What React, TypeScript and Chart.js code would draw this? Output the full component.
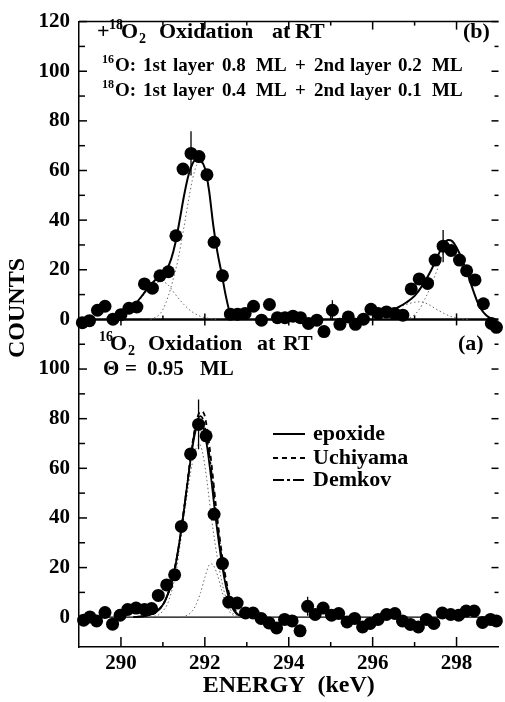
import React, { useEffect, useRef } from 'react';
import { Chart, registerables } from 'chart.js';

Chart.register(...registerables);

const SERIF = '"Liberation Serif", "Times New Roman", serif';

// ---------- Panel (b): +18O2 oxidation at RT (upper panel) ----------
const energyB = [289.08, 289.25, 289.44, 289.62, 289.81, 290.0, 290.19, 290.38, 290.56, 290.75, 290.93, 291.13, 291.31, 291.48, 291.67, 291.86, 292.05, 292.22, 292.42, 292.61, 292.78, 292.96, 293.16, 293.35, 293.54, 293.73, 293.91, 294.1, 294.28, 294.47, 294.67, 294.84, 295.04, 295.22, 295.42, 295.59, 295.78, 295.96, 296.13, 296.33, 296.52, 296.72, 296.92, 297.11, 297.31, 297.49, 297.68, 297.87, 298.07, 298.24, 298.44, 298.64, 298.83, 298.95];
const countsB = [-1.3, -0.5, 3.7, 5.3, 0.1, 1.9, 4.5, 5.0, 14.3, 12.6, 17.6, 19.2, 33.7, 60.6, 66.9, 65.6, 58.3, 31.1, 17.6, 2.1, 2.1, 2.4, 5.3, -0.3, 6.0, 0.7, 0.7, 1.3, 0.7, -1.6, -0.3, -4.9, 3.7, -2.0, 1.0, -2.0, 0.1, 4.1, 2.4, 3.0, 2.4, 1.7, 12.3, 16.3, 14.5, 23.9, 29.5, 27.8, 23.9, 19.6, 15.9, 6.3, -1.6, -3.2];
const errBEnergy = [291.67, 295.04, 297.68];
const errBLow = [58.0, -0.3, 23.0];
const errBHigh = [75.8, 7.7, 36.0];

// total fit, 16O peak
const fitB1Energy = [290.2, 290.35, 290.5, 290.65, 290.8, 290.95, 291.1, 291.2, 291.3, 291.4, 291.5, 291.6, 291.7, 291.8, 291.9, 292.0, 292.1, 292.2, 292.3, 292.4, 292.5, 292.6, 292.7, 292.8];
const fitB1Counts = [3.7, 6.3, 9.5, 12.8, 15.6, 18, 20.5, 24.5, 31, 40, 49.5, 57.5, 62.5, 64.6, 64, 61, 52, 38, 27, 18.5, 9.5, 2.5, 0.4, 0];
// total fit, 18O peak
const fitB2Energy = [296.45, 296.6, 296.8, 297.0, 297.2, 297.4, 297.55, 297.7, 297.8, 297.9, 298.0, 298.1, 298.2, 298.3, 298.4, 298.5, 298.6, 298.7, 298.8, 298.9];
const fitB2Counts = [3.5, 4.8, 6.8, 9.5, 14, 20, 25.5, 30.5, 32, 31.5, 29, 25.5, 21, 16.5, 11.5, 7, 3.8, 1.8, 0.6, 0];
// components (dotted)
const compB1MainEnergy = [290.7, 290.9, 291.0, 291.13, 291.25, 291.36, 291.5, 291.6, 291.7, 291.8, 291.9, 292.0, 292.1, 292.2, 292.3, 292.4, 292.5, 292.6, 292.7, 292.8];
const compB1MainCounts = [0, 1.7, 4, 9.5, 16.5, 24, 37, 47, 56, 62, 63.5, 60.5, 51.5, 38, 27, 18.3, 9.4, 2.5, 0.4, 0];
const compB1SideEnergy = [290.2, 290.4, 290.6, 290.8, 290.95, 291.1, 291.3, 291.5, 291.7, 291.9, 292.1, 292.3];
const compB1SideCounts = [3.5, 7, 11, 14.2, 15.3, 14.3, 10, 6, 3, 1.2, 0.4, 0];
const compB2MainEnergy = [296.8, 296.95, 297.1, 297.25, 297.4, 297.55, 297.7, 297.8, 297.9, 298.0, 298.1, 298.2, 298.3, 298.4, 298.5, 298.6, 298.7, 298.8, 298.9];
const compB2MainCounts = [0, 1.3, 3.8, 8.3, 14, 20.5, 27.5, 30.5, 30.8, 28.7, 25.3, 21, 16.5, 11.5, 7, 3.8, 1.8, 0.6, 0];
const compB2SideEnergy = [296.45, 296.6, 296.8, 297.0, 297.15, 297.3, 297.5, 297.7, 297.9, 298.1, 298.3];
const compB2SideCounts = [3.5, 4.6, 6, 6.9, 7.1, 6.3, 4.3, 2.4, 1, 0.3, 0];

// ---------- Panel (a): 16O2 oxidation at RT (lower panel) ----------
const energyA = [289.11, 289.26, 289.42, 289.62, 289.8, 289.98, 290.16, 290.36, 290.56, 290.73, 290.89, 291.09, 291.28, 291.44, 291.66, 291.85, 292.03, 292.22, 292.42, 292.57, 292.77, 292.97, 293.15, 293.34, 293.53, 293.71, 293.9, 294.08, 294.27, 294.45, 294.63, 294.82, 295.02, 295.19, 295.39, 295.57, 295.76, 295.94, 296.13, 296.33, 296.53, 296.71, 296.9, 297.09, 297.28, 297.46, 297.66, 297.86, 298.05, 298.23, 298.42, 298.62, 298.81, 298.95];
const countsA = [-1.2, 0.1, -1.5, 1.9, -2.8, 0.8, 3.1, 3.7, 3.1, 3.5, 8.8, 13.0, 17.1, 36.6, 65.8, 77.7, 73.1, 41.5, 21.6, 6.1, 5.7, 1.7, 1.7, -0.5, -2.3, -4.3, -0.9, -1.5, -5.5, 4.4, 1.1, 3.7, 0.8, 1.5, -1.9, -0.5, -3.9, -2.5, -0.9, 1.1, 1.5, -1.5, -2.9, -3.9, -0.9, -2.5, 1.7, 1.1, 0.8, 2.5, 2.5, -2.1, -0.9, -1.5];
const errAEnergy = [291.85, 294.45];
const errALow = [67.7, 0.6];
const errAHigh = [87.7, 8.2];

const epoxideEnergy = [290.3, 290.5, 290.7, 290.85, 291.0, 291.1, 291.2, 291.3, 291.4, 291.5, 291.6, 291.7, 291.8, 291.88, 291.96, 292.05, 292.15, 292.25, 292.35, 292.45, 292.55, 292.65, 292.75, 292.9, 293.1];
const epoxideCounts = [0, 0.3, 1, 2.3, 5, 8.5, 13.5, 21, 31, 43, 56, 68, 76.5, 79, 77, 69, 56, 41, 28, 17, 9, 4, 1.5, 0.3, 0];
const uchiyamaEnergy = [290.3, 290.5, 290.7, 290.85, 291.0, 291.1, 291.2, 291.3, 291.4, 291.5, 291.6, 291.7, 291.8, 291.9, 291.98, 292.07, 292.17, 292.27, 292.37, 292.47, 292.57, 292.67, 292.77, 292.92, 293.1];
const uchiyamaCounts = [0, 0.3, 1, 2.3, 5, 8.5, 13.5, 21, 31, 43, 56.5, 69.5, 79, 83, 82, 74, 60, 44, 30, 18.5, 10, 4.5, 1.8, 0.4, 0];
const demkovEnergy = [290.3, 290.5, 290.7, 290.85, 291.0, 291.1, 291.2, 291.3, 291.4, 291.5, 291.6, 291.7, 291.8, 291.89, 291.97, 292.06, 292.16, 292.26, 292.36, 292.46, 292.56, 292.66, 292.76, 292.91, 293.1];
const demkovCounts = [0, 0.3, 1, 2.3, 5, 8.5, 13.5, 21, 31, 43, 56, 69, 78, 81, 79, 71, 58, 42.5, 29, 17.5, 9.5, 4.2, 1.6, 0.3, 0];
const compAMainEnergy = [290.7, 290.9, 291.0, 291.1, 291.2, 291.3, 291.4, 291.5, 291.6, 291.7, 291.8, 291.87, 291.95, 292.05, 292.15, 292.25, 292.35, 292.45, 292.55, 292.65, 292.75, 292.85];
const compAMainCounts = [0, 1, 2.5, 5, 10, 17, 28, 40, 52, 62, 68.5, 69.8, 66, 55, 41, 29, 19, 11, 5.5, 2, 0.6, 0];
const compASideEnergy = [291.45, 291.6, 291.7, 291.8, 291.9, 292.0, 292.1, 292.15, 292.2, 292.3, 292.4, 292.5, 292.6, 292.7, 292.8];
const compASideCounts = [0, 1, 2.5, 5.5, 10, 16, 21, 21.5, 21, 17, 11, 5.5, 2, 0.6, 0];

const xTicksEven = (v: number) => (v % 2 === 0 ? String(v) : '');

const pts = (xs: number[], ys: number[]) => xs.map((x, i) => ({ x, y: ys[i] }));
const errPts = (xs: number[], lo: number[], hi: number[]) => {
  const out: any[] = [];
  xs.forEach((x, i) => {
    out.push({ x, y: lo[i] }, { x, y: hi[i] }, { x, y: null });
  });
  return out;
};

const lineDs = (label: string, data: any[], axis: string, extra: any = {}) => ({
  label,
  data,
  yAxisID: axis,
  showLine: true,
  pointRadius: 0,
  borderColor: '#000',
  borderWidth: 2,
  cubicInterpolationMode: 'monotone',
  fill: false,
  clip: false,
  spanGaps: false,
  ...extra,
});

const dotted = { borderColor: '#666', borderWidth: 1, borderDash: [1.5, 2.5] };

function drawParts(ctx: CanvasRenderingContext2D, parts: [string, number, number, number][]) {
  // [text, x, baseline, fontSize]
  for (const [t, x, y, s] of parts) {
    ctx.font = `bold ${s}px ${SERIF}`;
    ctx.fillText(t, x, y);
  }
}

const decorPlugin = {
  id: 'decor',
  beforeDatasetsDraw(chart: any) {
    const { ctx, chartArea: ca, scales } = chart;
    ctx.save();
    ctx.strokeStyle = '#000';
    const z0 = scales.yB.getPixelForValue(0);
    ctx.lineWidth = 2.5;
    ctx.beginPath();
    ctx.moveTo(ca.left, z0);
    ctx.lineTo(ca.right, z0);
    ctx.stroke();
    const z1 = scales.yA.getPixelForValue(0);
    ctx.lineWidth = 1.3;
    ctx.beginPath();
    ctx.moveTo(ca.left, z1);
    ctx.lineTo(ca.right, z1);
    ctx.stroke();
    ctx.restore();
  },
  afterDraw(chart: any) {
    const { ctx, chartArea: ca, scales } = chart;
    const seg = (x1: number, y1: number, x2: number, y2: number) => {
      ctx.beginPath();
      ctx.moveTo(x1, y1);
      ctx.lineTo(x2, y2);
      ctx.stroke();
    };
    ctx.save();
    ctx.strokeStyle = '#000';
    ctx.lineWidth = 1.5;
    // top frame
    seg(ca.left, ca.top, ca.right, ca.top);
    // x ticks (inward)
    const z0 = scales.yB.getPixelForValue(0);
    scales.x.ticks.forEach((t: any) => {
      const v = t.value;
      if (v <= scales.x.min || v >= scales.x.max) return;
      const px = scales.x.getPixelForValue(v);
      const major = v % 2 === 0;
      seg(px, ca.top, px, ca.top + (major ? 8 : 4));
      if (major) seg(px, z0 - 6, px, z0 + 6);
      else seg(px, z0 - 4, px, z0);
      seg(px, ca.bottom, px, ca.bottom - (major ? 10 : 5));
    });
    // y ticks (inward), both sides
    const yTicks = (sc: any, skipTop: boolean) => {
      sc.ticks.forEach((t: any) => {
        const v = t.value;
        if (v % 10 !== 0 || v === 0) return;
        if (skipTop && v >= sc.max) return;
        const py = sc.getPixelForValue(v);
        const major = v % 20 === 0;
        seg(ca.left, py, ca.left + (major ? 8 : 6), py);
        seg(ca.right, py, ca.right - (major ? 7 : 4), py);
      });
    };
    yTicks(scales.yB, false);
    yTicks(scales.yA, true);

    // annotations
    ctx.fillStyle = '#000';
    ctx.textAlign = 'left';
    ctx.textBaseline = 'alphabetic';
    drawParts(ctx, [
      ['+', 97, 38, 22], ['18', 109, 29, 14], ['O', 121, 38, 22], ['2', 139, 43, 14],
      ['Oxidation', 159, 38, 22], ['at', 272, 38, 22], ['RT', 295, 38, 22], ['(b)', 463, 38, 22],
    ]);
    const line2 = (iso: string, a: string, b: string, y: number) =>
      drawParts(ctx, [
        [iso, 102, y - 8, 12], ['O:', 115, y, 19], ['1st', 143, y, 19], ['layer', 173, y, 19],
        [a, 222, y, 19], ['ML', 256, y, 19], ['+', 295, y, 19], ['2nd', 314, y, 19],
        ['layer', 350, y, 19], [b, 398, y, 19], ['ML', 432, y, 19],
      ]);
    line2('16', '0.8', '0.2', 71);
    line2('18', '0.4', '0.1', 96);
    drawParts(ctx, [
      ['16', 99, 341, 14], ['O', 110, 350, 22], ['2', 128, 355, 14],
      ['Oxidation', 148, 350, 22], ['at', 257, 350, 22], ['RT', 283, 350, 22], ['(a)', 458, 350, 22],
      ['\u0398', 103, 375, 21], ['=', 125, 375, 21], ['0.95', 147, 375, 21], ['ML', 200, 375, 21],
    ]);

    // legend (fits in panel a)
    const legendIdx = [10, 11, 12];
    const rows = [434, 458, 480];
    legendIdx.forEach((di, i) => {
      const ds = chart.data.datasets[di];
      ctx.save();
      ctx.lineWidth = 2;
      ctx.setLineDash(ds.borderDash || []);
      seg(273, rows[i], 305, rows[i]);
      ctx.restore();
      ctx.font = `bold 22px ${SERIF}`;
      ctx.textBaseline = 'middle';
      ctx.fillText(ds.label, 313, rows[i]);
    });

    // y axis title
    ctx.save();
    ctx.translate(18, 308);
    ctx.rotate(-Math.PI / 2);
    ctx.font = `bold 24px ${SERIF}`;
    ctx.textAlign = 'center';
    ctx.textBaseline = 'middle';
    ctx.fillText('COUNTS', 0, 0);
    ctx.restore();
    ctx.restore();
  },
};

export default function App() {
  const ref = useRef<HTMLCanvasElement>(null);
  useEffect(() => {
    if (!ref.current) return;
    const tickFont = { family: SERIF, size: 21, weight: 'bold' as const };
    const pointStyle = {
      showLine: false,
      pointRadius: 6.5,
      pointHoverRadius: 6.5,
      pointBackgroundColor: '#000',
      pointBorderWidth: 0,
      clip: false,
    };
    const chart = new Chart(ref.current, {
      type: 'scatter',
      data: {
        datasets: [
          { label: 'data (b)', data: pts(energyB, countsB), yAxisID: 'yB', ...pointStyle },
          { label: 'data (a)', data: pts(energyA, countsA), yAxisID: 'yA', ...pointStyle },
          lineDs('error (b)', errPts(errBEnergy, errBLow, errBHigh), 'yB', { borderWidth: 1.3, cubicInterpolationMode: 'default', tension: 0 }),
          lineDs('error (a)', errPts(errAEnergy, errALow, errAHigh), 'yA', { borderWidth: 1.3, cubicInterpolationMode: 'default', tension: 0 }),
          lineDs('fit 16O (b)', pts(fitB1Energy, fitB1Counts), 'yB'),
          lineDs('fit 18O (b)', pts(fitB2Energy, fitB2Counts), 'yB'),
          lineDs('1st layer 16O', pts(compB1MainEnergy, compB1MainCounts), 'yB', dotted),
          lineDs('2nd layer 16O', pts(compB1SideEnergy, compB1SideCounts), 'yB', dotted),
          lineDs('1st layer 18O', pts(compB2MainEnergy, compB2MainCounts), 'yB', dotted),
          lineDs('2nd layer 18O', pts(compB2SideEnergy, compB2SideCounts), 'yB', dotted),
          lineDs('epoxide', pts(epoxideEnergy, epoxideCounts), 'yA', { borderWidth: 1.8 }),
          lineDs('Uchiyama', pts(uchiyamaEnergy, uchiyamaCounts), 'yA', { borderWidth: 1.8, borderDash: [5, 4] }),
          lineDs('Demkov', pts(demkovEnergy, demkovCounts), 'yA', { borderWidth: 1.8, borderDash: [11, 3, 3, 3] }),
          lineDs('1st layer', pts(compAMainEnergy, compAMainCounts), 'yA', dotted),
          lineDs('2nd layer', pts(compASideEnergy, compASideCounts), 'yA', dotted),
        ],
      },
      options: {
        responsive: false,
        animation: false,
        events: [],
        layout: { padding: { top: 14, right: 0, bottom: 0, left: 0 } },
        plugins: { legend: { display: false }, tooltip: { enabled: false }, title: { display: false } },
        scales: {
          x: {
            type: 'linear',
            position: 'bottom',
            min: 289,
            max: 299,
            ticks: { stepSize: 1, autoSkip: false, maxRotation: 0, callback: (v: any) => xTicksEven(Number(v)), font: tickFont, color: '#000', padding: 4 },
            grid: { display: false, drawTicks: false },
            border: { display: true, color: '#000', width: 1.5 },
            title: { display: true, text: 'ENERGY  (keV)', color: '#000', font: { family: SERIF, size: 24, weight: 'bold' }, padding: { top: 0, bottom: 2 } },
            afterFit: (s: any) => { s.height = 55; },
          },
          yA: {
            type: 'linear',
            position: 'left',
            stack: 'panels',
            stackWeight: 132,
            min: -12,
            max: 120,
            ticks: { stepSize: 10, autoSkip: false, callback: (v: any) => (Number(v) % 20 === 0 && Number(v) < 120 ? String(v) : ''), font: tickFont, color: '#000', padding: 9 },
            grid: { display: false, drawTicks: false },
            border: { display: true, color: '#000', width: 1.5 },
            afterFit: (s: any) => { s.width = 79; },
          },
          yB: {
            type: 'linear',
            position: 'left',
            stack: 'panels',
            stackWeight: 120,
            min: 0,
            max: 120,
            ticks: { stepSize: 10, autoSkip: false, callback: (v: any) => (Number(v) % 20 === 0 ? String(v) : ''), font: tickFont, color: '#000', padding: 9 },
            grid: { display: false, drawTicks: false },
            border: { display: true, color: '#000', width: 1.5 },
            afterFit: (s: any) => { s.width = 79; },
          },
        },
      } as any,
      plugins: [decorPlugin],
    });
    return () => chart.destroy();
  }, []);
  return (
    <div style={{ position: 'absolute', left: 0, top: 0, width: 505, height: 702, background: '#fff' }}>
      <canvas ref={ref} width={505} height={702} style={{ display: 'block' }} />
    </div>
  );
}
